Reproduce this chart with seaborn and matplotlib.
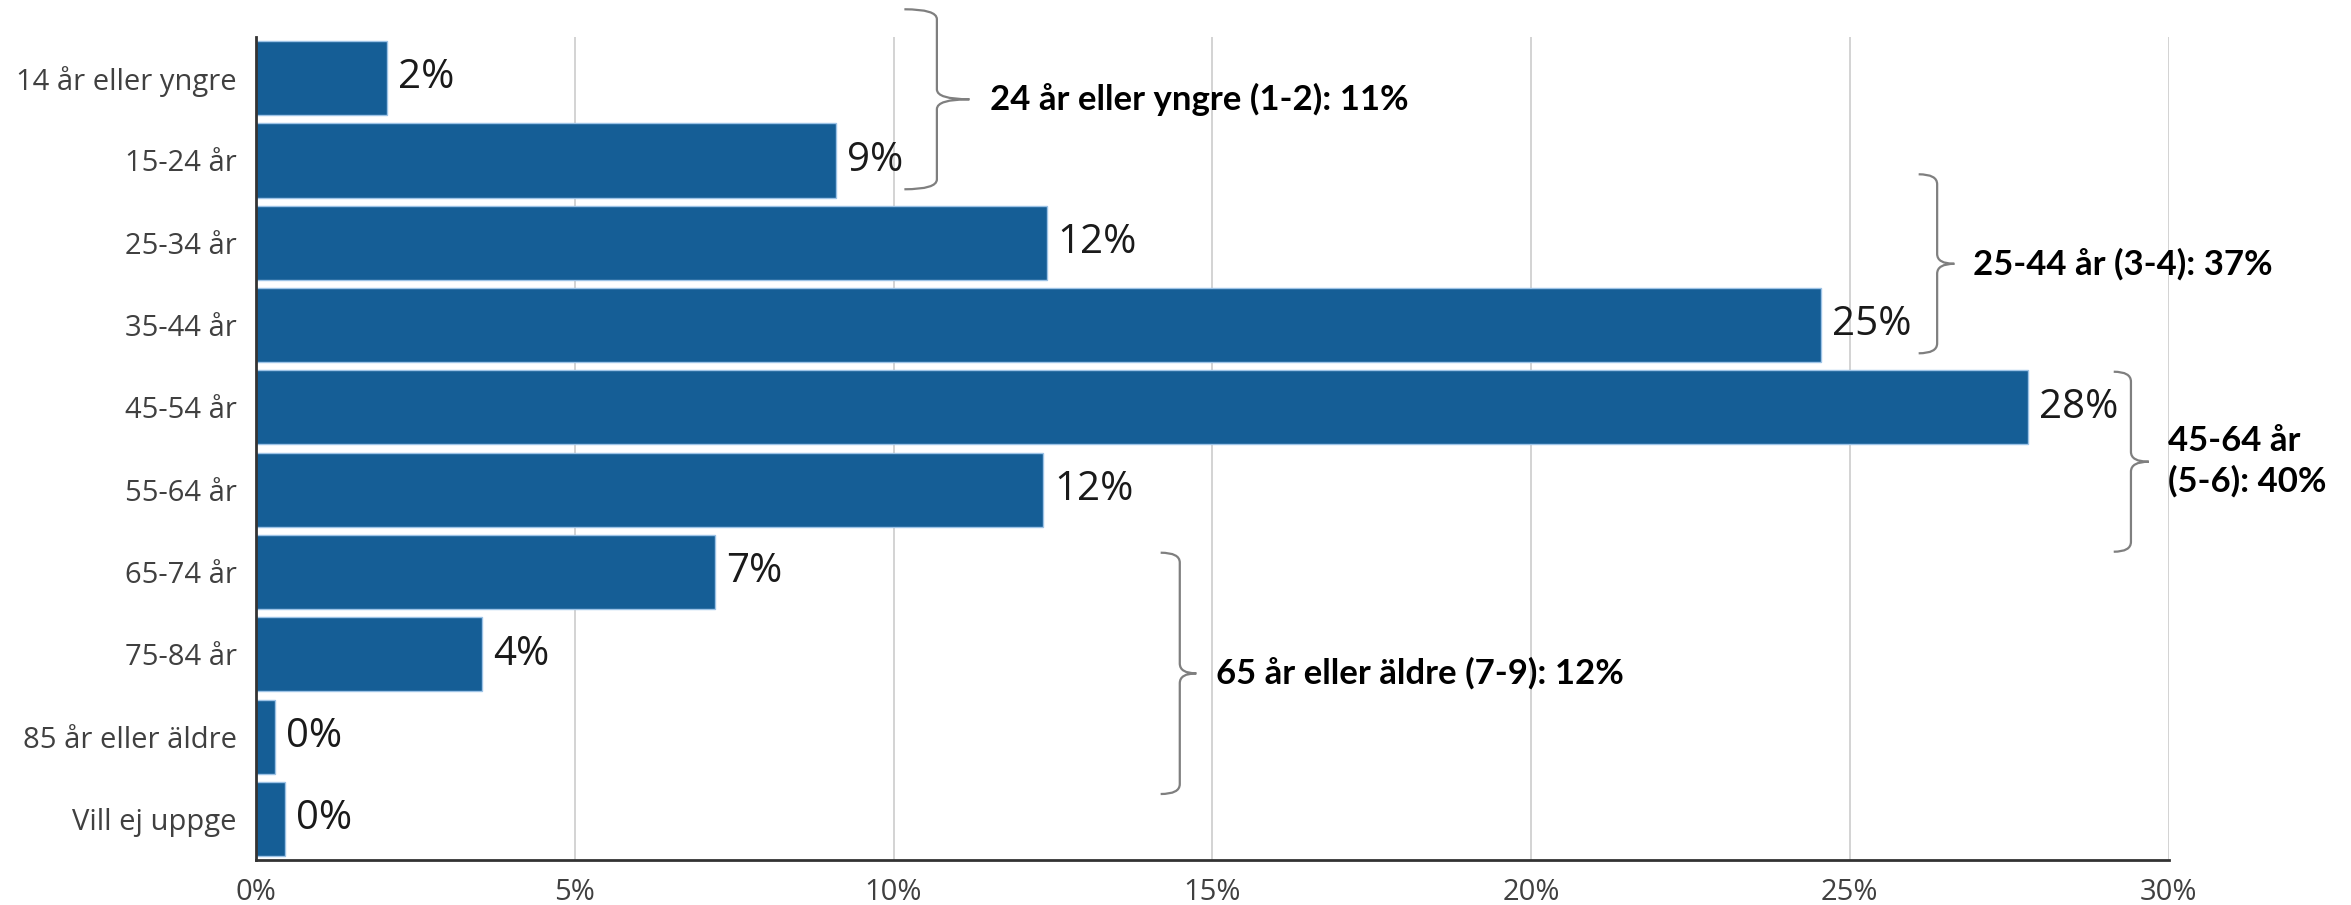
import numpy as np
import pandas as pd
import matplotlib
matplotlib.use("Agg")
import matplotlib.pyplot as plt
from matplotlib.path import Path
from matplotlib.patches import PathPatch
import seaborn as sns

# ---------------- data ----------------
categories = ["14 år eller yngre", "15-24 år", "25-34 år", "35-44 år", "45-54 år",
              "55-64 år", "65-74 år", "75-84 år", "85 år eller äldre", "Vill ej uppge"]
values = [2.05, 9.1, 12.4, 24.55, 27.8, 12.35, 7.2, 3.55, 0.3, 0.45]
value_labels = ["2%", "9%", "12%", "25%", "28%", "12%", "7%", "4%", "0%", "0%"]
x_ticks = [0, 5, 10, 15, 20, 25, 30]
x_tick_labels = ["0%", "5%", "10%", "15%", "20%", "25%", "30%"]

group_labels = ["24 år eller yngre (1-2): 11%",
                "25-44 år (3-4): 37%",
                "45-64 år\n(5-6): 40%",
                "65 år eller äldre (7-9): 12%"]

# ---------------- brace layout (data units) ----------------
brace_x_end = [10.17, 26.08, 29.14, 14.19]
brace_x_spine = [10.68, 26.37, 29.41, 14.49]
brace_x_tip = [11.19, 26.64, 29.69, 14.75]
brace_text_x = [11.51, 26.94, 29.99, 15.06]
brace_y_top = [-0.837, 1.168, 3.567, 5.766]
brace_y_bot = [1.35, 3.343, 5.754, 8.698]

BAR = "#155E96"
EDGE = "#9DC3E6"
GRID = "#D0D0D0"
AXIS = "#333333"
TICK_TXT = "#404040"
BRACE = "#7F7F7F"

sns.set_style("white")
plt.rcParams["font.family"] = ["Open Sans", "DejaVu Sans"]

fig = plt.figure(figsize=(23.51, 9.05), dpi=100)
ax = fig.add_axes([0.1089, 0.0497, 0.9224 - 0.1089, 0.9591 - 0.0497])

df = pd.DataFrame({"category": categories, "value": values})
sns.barplot(data=df, x="value", y="category", orient="h", color=BAR, saturation=1,
            width=0.9, edgecolor=EDGE, linewidth=1.0, ax=ax, zorder=3)

ax.set_xlim(0, 30)
ax.set_ylim(9.5, -0.5)
ax.set_xlabel("")
ax.set_ylabel("")

ax.set_xticks(x_ticks)
ax.set_xticklabels(x_tick_labels)
ax.xaxis.grid(True, color=GRID, linewidth=1.3, zorder=0)
ax.yaxis.grid(False)
ax.set_axisbelow(True)

for s in ["top", "right"]:
    ax.spines[s].set_visible(False)
for s in ["left", "bottom"]:
    ax.spines[s].set_color(AXIS)
    ax.spines[s].set_linewidth(2.0)
    ax.spines[s].set_zorder(5)

ax.tick_params(axis="x", direction="out", length=8, width=2.0, color=AXIS,
               labelsize=21, labelcolor=TICK_TXT, pad=5)
ax.tick_params(axis="y", which="major", length=0, labelsize=21,
               labelcolor=TICK_TXT, pad=14)
ax.set_yticks(np.arange(-0.5, len(categories), 1.0), minor=True)
ax.tick_params(axis="y", which="minor", direction="out", length=8, width=2.0, color=AXIS)

ax.bar_label(ax.containers[0], labels=value_labels, padding=8, fontsize=29,
             color="#1A1A1A", family=["Open Sans", "DejaVu Sans"])

r = 0.12
for i, lab in enumerate(group_labels):
    xe, xs, xt = brace_x_end[i], brace_x_spine[i], brace_x_tip[i]
    y0, y1 = brace_y_top[i], brace_y_bot[i]
    ym = (y0 + y1) / 2
    verts = [(xe, y0), (xs, y0), (xs, y0 + r),
             (xs, ym - r), (xs, ym), (xt, ym),
             (xs, ym), (xs, ym + r),
             (xs, y1 - r), (xs, y1), (xe, y1)]
    codes = [Path.MOVETO, Path.CURVE3, Path.CURVE3,
             Path.LINETO, Path.CURVE3, Path.CURVE3,
             Path.CURVE3, Path.CURVE3,
             Path.LINETO, Path.CURVE3, Path.CURVE3]
    patch = PathPatch(Path(verts, codes), fill=False, edgecolor=BRACE, linewidth=1.6,
                      clip_on=False, zorder=6)
    ax.add_patch(patch)
    ax.text(brace_text_x[i], ym, lab, ha="left", va="center", fontsize=25,
            fontweight="bold", family=["Lato", "DejaVu Sans"], color="black",
            linespacing=1.3, clip_on=False, zorder=7)

fig.savefig("out.png", dpi=100)
